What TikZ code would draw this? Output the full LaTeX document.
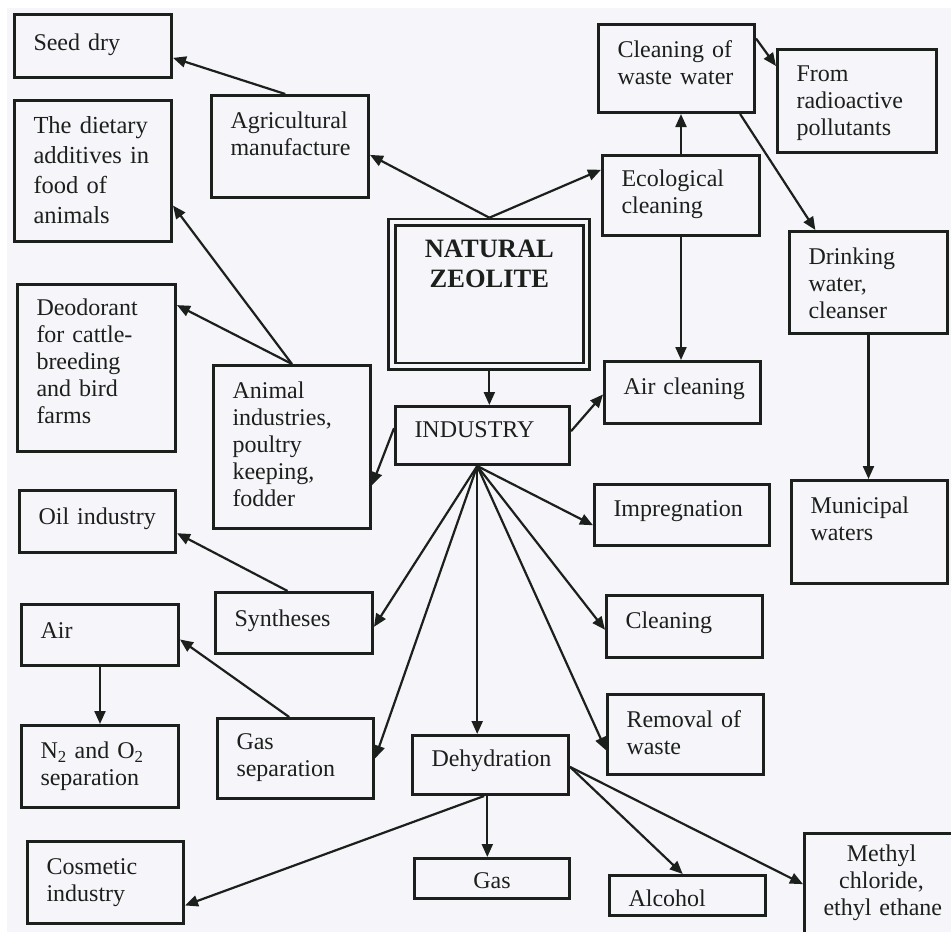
\documentclass[tikz,border=0pt]{standalone}
\usepackage{fontspec}
\setmainfont{Liberation Serif}
\usetikzlibrary{arrows.meta,calc}
\definecolor{ink}{RGB}{28,32,28}
\definecolor{paper}{RGB}{246,246,250}
\tikzset{
  box/.style 2 args={draw=ink, line width=3pt, anchor=north west, inner sep=0pt,
    minimum width=#1pt, text width=#1pt-38pt, text height=33pt, text depth=#2pt-33pt,
    align=left, text=ink, font=\fontsize{24}{27}\selectfont,
    execute at begin node={\hyphenpenalty=10000 \exhyphenpenalty=10000 }},
  arr/.style={draw=ink, line width=2.2pt, -{Triangle[length=13pt,width=11pt]}}
}
\begin{document}
\begin{tikzpicture}[x=1pt, y=-1pt]
  \useasboundingbox (0,0) rectangle (951,932);
  \fill[paper] (7,8) rectangle (951,932);
  \node[draw=ink, double=paper, double distance=3.7pt, line width=2.8pt, outer sep=4.6pt,
    anchor=north west, inner sep=0pt, minimum width=194.5pt, text width=170pt,
    text height=35pt, text depth=109pt, align=center, text=ink,
    font=\bfseries\fontsize{26.5}{30}\selectfont] (natz) at (387.5,217.7) {NATURAL\\ ZEOLITE};
  \node[box={157}{63}, text height=36pt, text depth=27pt] (seed) at (13,13) {Seed~dry};
  \node[box={157}{141}, font=\fontsize{24.5}{30}\selectfont] (diet) at (13,99) {The~dietary\\ additives~in\\ food~of\\ animals};
  \node[box={157}{102}] (agri) at (210,94) {Agricultural\\ manufacture};
  \node[box={158}{167}, text height=31pt, text depth=136pt] (deo) at (16,283) {Deodorant\\ for~cattle-\\ breeding\\ and~bird\\ farms};
  \node[box={157}{163}] (anim) at (212,364) {Animal\\ industries,\\ poultry\\ keeping,\\ fodder};
  \node[box={174}{58}, text height=31pt, text depth=27pt] (ind) at (394,405) {INDUSTRY};
  \node[box={156}{88}] (cww) at (597,23) {Cleaning~of\\ waste~water};
  \node[box={159}{103}, text height=32pt, text depth=71pt] (frm) at (776,48) {From\\ radioactive\\ pollutants};
  \node[box={157}{80}, text height=31pt, text depth=49pt] (eco) at (601,154) {Ecological\\ cleaning};
  \node[box={158}{102}] (drk) at (788,230) {Drinking\\ water,\\ cleanser};
  \node[box={156}{62}] (airc) at (603,360) {Air~cleaning};
  \node[box={156}{103}] (mun) at (790,479) {Municipal\\ waters};
  \node[box={175}{61}, text height=32pt, text depth=29pt] (imp) at (593,483) {Impregnation};
  \node[box={156}{62}] (cln) at (605,594) {Cleaning};
  \node[box={156}{80}] (rem) at (606,693) {Removal~of\\ waste};
  \node[box={156}{59}, text height=31pt, text depth=28pt] (deh) at (411,734) {Dehydration};
  \node[box={155}{40}, align=center, text height=30pt, text depth=10pt] (gas) at (413,857) {Gas};
  \node[box={156}{40}, text height=31pt, text depth=9pt] (alc) at (608,874) {Alcohol};
  \node[box={154}{108}, align=center, text height=28pt, text depth=80pt] (meth) at (803,832) {Methyl\\ chloride,\\ ethyl~ethane};
  \node[box={156}{62}, text height=34pt, text depth=28pt] (oil) at (18,489) {Oil~industry};
  \node[box={157}{61}, text height=34pt, text depth=27pt] (syn) at (214,591) {Syntheses};
  \node[box={157}{61}, text height=34pt, text depth=27pt] (air) at (20,603) {Air};
  \node[box={157}{82}] (n2) at (20,724) {N\textsubscript{2}~and~O\textsubscript{2}\\ separation};
  \node[box={156}{80}, text height=31pt, text depth=49pt] (gsep) at (216,717) {Gas\\ separation};
  \node[box={156}{82}] (cos) at (26,840) {Cosmetic\\ industry};

  \draw[arr] ($(agri.north west)!.47!(agri.north east)$) -- ($(seed.north east)!.68!(seed.south east)$);
  \draw[arr] (natz.north) -- ($(agri.north east)!.58!(agri.south east)$);
  \draw[arr] (natz.north) -- ($(eco.north west)!.19!(eco.south west)$);
  \draw[arr] (eco.north) -- (eco.north |- cww.south);
  \draw[arr] (eco.south) -- (eco.south |- airc.north);
  \draw[arr] ($(cww.north east)!.17!(cww.south east)$) -- ($(frm.north west)!.17!(frm.south west)$);
  \draw[arr] ($(cww.south west)!.9!(cww.south east)$) -- ($(drk.north west)!.17!(drk.north east)$);
  \draw[arr] (drk.south) -- (drk.south |- mun.north);
  \draw[arr] (natz.south) -- (natz.south |- ind.north);
  \draw[arr] ($(ind.north east)!.43!(ind.south east)$) -- ($(airc.north west)!.53!(airc.south west)$);
  \draw[arr] ($(ind.north west)!.38!(ind.south west)$) -- ($(anim.north east)!.73!(anim.south east)$);
  \draw[arr] (anim.north) -- ($(diet.north east)!.74!(diet.south east)$);
  \draw[arr] (anim.north) -- ($(deo.north east)!.13!(deo.south east)$);
  \coordinate (hub) at ($(ind.south west)!.47!(ind.south east)$);
  \draw[arr] (hub) -- ($(syn.north east)!.56!(syn.south east)$);
  \draw[arr] (hub) -- (gsep.east);
  \draw[arr] (hub) -- (hub |- deh.north);
  \draw[arr] (hub) -- ($(imp.north west)!.66!(imp.south west)$);
  \draw[arr] (hub) -- ($(cln.north west)!.55!(cln.south west)$);
  \draw[arr] (hub) -- ($(rem.north west)!.69!(rem.south west)$);
  \draw[arr] ($(syn.north west)!.46!(syn.north east)$) -- ($(oil.north east)!.68!(oil.south east)$);
  \draw[arr] ($(gsep.north west)!.46!(gsep.north east)$) -- ($(air.north east)!.57!(air.south east)$);
  \draw[arr] (air.south) -- (air.south |- n2.north);
  \coordinate (dout) at ($(deh.south west)!.48!(deh.south east)$);
  \draw[arr] (dout) -- (dout |- gas.north);
  \draw[arr] ($(deh.south west)!.46!(deh.south east)$) -- ($(cos.north east)!.77!(cos.south east)$);
  \coordinate (dright) at ($(deh.north east)!.53!(deh.south east)$);
  \draw[arr] (dright) -- ($(alc.north west)!.47!(alc.north east)$);
  \draw[arr] (dright) -- ($(meth.north west)!.47!(meth.south west)$);
\end{tikzpicture}
\end{document}
